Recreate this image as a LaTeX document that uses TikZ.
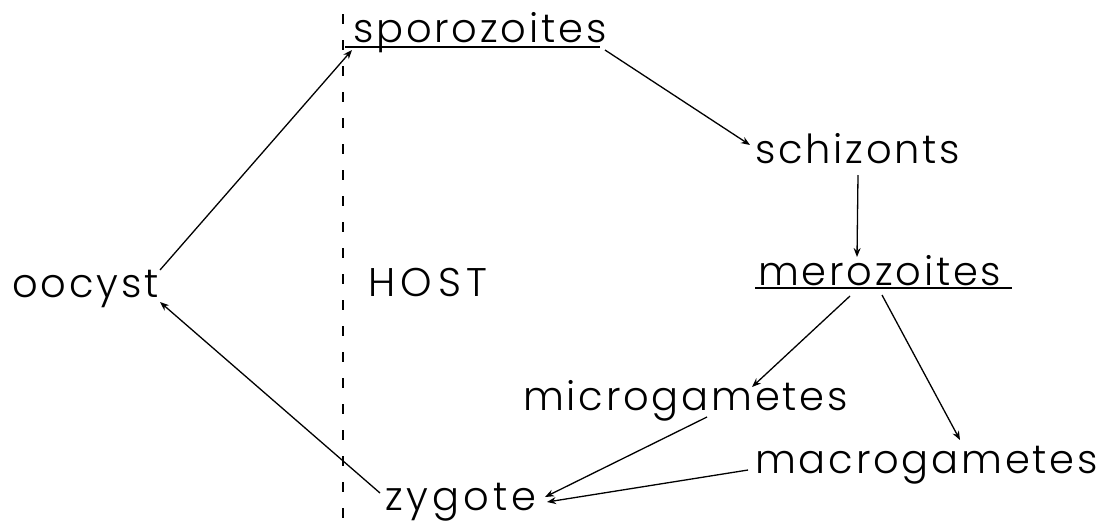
\documentclass[tikz,border=0pt]{standalone}
\usepackage{fontspec}
\setmainfont{Poppins}[UprightFont=* Light,LetterSpace=7]
\usetikzlibrary{arrows.meta,calc}
\begin{document}
\begin{tikzpicture}[x=1pt,y=-1pt,
  lbl/.style={inner sep=0pt,anchor=base west,font=\fontsize{40}{46}\selectfont},
  ul/.style={line width=1.3pt},
  arr/.style={line width=1.3pt,-{Stealth[length=9pt,width=7pt]}},
  hostline/.style={line width=1.5pt,dash pattern=on 10pt off 16pt}]
\useasboundingbox (0,0) rectangle (1105,523);
\node[lbl] (spor) at (353,42) {sporozoites};
\node[lbl] (schi) at (755,163) {schizonts};
\node[lbl] (mero) at (758,285) {merozoites};
\node[lbl] (micr) at (523,410) {microgametes};
\node[lbl] (macr) at (755,473) {macrogametes};
\node[lbl] (zygo) at (385,510) {\addfontfeature{LetterSpace=10}zygote};
\node[lbl] (oocy) at (12,297) {oocyst};
\node[lbl] (host) at (368,296) {\addfontfeature{LetterSpace=14}HOST};
\coordinate (htop) at (343,14);
\coordinate (hbot) at (343,523);
\draw[hostline] (htop) -- (hbot);
\draw[ul] ($(spor.base west)+(-8,5)$) -- ($(spor.base west)+(247,5)$);
\draw[ul] ($(mero.base west)+(-3,3)$) -- ($(mero.base west)+(254,3)$);
\draw[arr] ($(oocy.base west)+(148,-27)$) -- ($(spor.base west)+(-1,8)$);
\draw[arr] ($(spor.base west)+(252,8)$) -- ($(schi.base west)+(-5,-18)$);
\draw[arr] ($(schi.base west)+(103,12)$) -- ($(mero.base west)+(99,-28)$);
\draw[arr] ($(mero.base west)+(92,11)$) -- ($(micr.base west)+(229,-23)$);
\draw[arr] ($(mero.base west)+(124,10)$) -- ($(macr.base west)+(205,-33)$);
\draw[arr] ($(micr.base west)+(184,7)$) -- ($(zygo.base west)+(160,-13)$);
\draw[arr] ($(macr.base west)+(-7,-3)$) -- ($(zygo.base west)+(162,-8)$);
\draw[arr] ($(zygo.base west)+(-5,-17)$) -- ($(oocy.base west)+(148,5)$);
\end{tikzpicture}
\end{document}
